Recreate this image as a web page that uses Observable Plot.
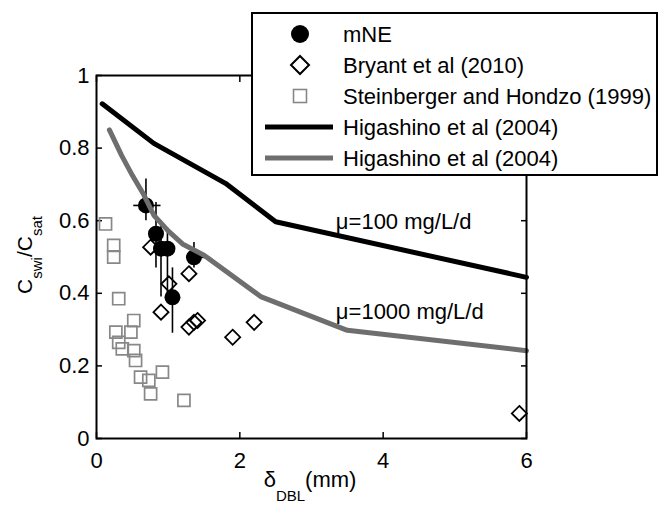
<!DOCTYPE html>
<html><head><meta charset="utf-8">
<script src="https://cdn.jsdelivr.net/npm/d3@7"></script>
<script src="https://cdn.jsdelivr.net/npm/@observablehq/plot@0.6"></script>
<style>
body{margin:0;background:#fff;}
svg{font-family:"Liberation Sans",Arial,Helvetica,sans-serif;}
</style>
</head><body><div id="chart"></div>
<script>
// ---- data ----
const xTicks = [0, 2, 4, 6];
const yTicks = [0, 0.2, 0.4, 0.6, 0.8, 1];

const mneX   = [0.69, 0.83, 0.90, 0.99, 1.06, 1.36];
const mneY   = [0.642, 0.564, 0.523, 0.523, 0.389, 0.499];
const mneYlo = [0.60, 0.47, 0.39, 0.39, 0.29, 0.47];
const mneYhi = [0.715, 0.65, 0.60, 0.58, 0.47, 0.54];
const mneXlo = [0.52, 0.76, 0.90, 0.99, 1.06, 1.27];
const mneXhi = [0.90, 0.90, 0.90, 0.99, 1.06, 1.57];

const bryantX = [0.755, 1.01, 1.29, 0.90, 1.29, 1.36, 1.41, 1.90, 2.20, 5.90];
const bryantY = [0.527, 0.426, 0.454, 0.348, 0.307, 0.320, 0.325, 0.279, 0.320, 0.069];

const steinX = [0.126, 0.24, 0.24, 0.31, 0.52, 0.27, 0.48, 0.31, 0.36, 0.52, 0.545, 0.615, 0.73, 0.92, 0.755, 1.22];
const steinY = [0.591, 0.532, 0.50, 0.385, 0.325, 0.293, 0.293, 0.265, 0.247, 0.242, 0.215, 0.169, 0.16, 0.183, 0.123, 0.105];

const hig100X = [0.08, 0.8, 1.8, 2.5, 6];
const hig100Y = [0.922, 0.813, 0.703, 0.597, 0.444];
const hig1000X = [0.18, 0.35, 0.5, 0.65, 0.8, 1.0, 1.2, 1.5, 2.3, 3.5, 6];
const hig1000Y = [0.85, 0.78, 0.725, 0.675, 0.615, 0.572, 0.536, 0.505, 0.39, 0.298, 0.242];

const annoText = ["\u03bc=100 mg/L/d", "\u03bc=1000 mg/L/d"];
const annoX = [3.34, 3.34];
const annoY = [0.596, 0.348];

const legendLabels = ["mNE", "Bryant et al (2010)", "Steinberger and Hondzo (1999)", "Higashino et al (2004)", "Higashino et al (2004)"];

// ---- tables ----
const mne = mneX.map((x, i) => ({x, y: mneY[i], ylo: mneYlo[i], yhi: mneYhi[i], xlo: mneXlo[i], xhi: mneXhi[i]}));
const bryant = bryantX.map((x, i) => ({x, y: bryantY[i]}));
const stein = steinX.map((x, i) => ({x, y: steinY[i]}));
const h100 = hig100X.map((x, i) => ({x, y: hig100Y[i]}));
const h1000 = hig1000X.map((x, i) => ({x, y: hig1000Y[i]}));
const anno = annoText.map((t, i) => ({t, x: annoX[i], y: annoY[i]}));

const GRAY_LINE = "#6e6e6e";
const GRAY_SQ = "#888888";
const FS = 22;

const plot = Plot.plot({
  width: 660, height: 505,
  marginLeft: 96, marginRight: 134, marginTop: 75, marginBottom: 67,
  x: {domain: [0, 6]},
  y: {domain: [0, 1]},
  style: {fontFamily: '"Liberation Sans",Arial,Helvetica,sans-serif', fontSize: FS + "px", color: "black", background: "white", overflow: "visible"},
  marks: [
    Plot.axisX({anchor: "bottom", ticks: xTicks, tickSize: -6, tickPadding: 20, tickFormat: d => String(d), label: null, strokeWidth: 1.5}),
    Plot.axisX({anchor: "top", ticks: xTicks, tickSize: -6, tickFormat: () => "", label: null, strokeWidth: 1.5}),
    Plot.axisY({anchor: "left", ticks: yTicks, tickSize: -6, tickPadding: 13, tickFormat: d => String(d), label: null, strokeWidth: 1.5}),
    Plot.axisY({anchor: "right", ticks: yTicks, tickSize: -6, tickFormat: () => "", label: null, strokeWidth: 1.5}),
    Plot.dot(stein, {x: "x", y: "y", symbol: "square", r: 6.8, stroke: GRAY_SQ, strokeWidth: 1.7, fill: "none"}),
    Plot.dot(bryant, {x: "x", y: "y", symbol: "diamond2", r: 6.8, stroke: "black", strokeWidth: 1.8, fill: "none"}),
    Plot.ruleX(mne, {x: "x", y1: "ylo", y2: "yhi", stroke: "black", strokeWidth: 1.6}),
    Plot.ruleY(mne, {y: "y", x1: "xlo", x2: "xhi", stroke: "black", strokeWidth: 1.6}),
    Plot.dot(mne, {x: "x", y: "y", r: 8, fill: "black"}),
    Plot.line(h100, {x: "x", y: "y", stroke: "black", strokeWidth: 5}),
    Plot.line(h1000, {x: "x", y: "y", stroke: GRAY_LINE, strokeWidth: 5}),
    Plot.text(anno, {x: "x", y: "y", text: "t", textAnchor: "start", lineAnchor: "middle", fontSize: FS, fill: "black"}),
    Plot.frame({stroke: "black", strokeWidth: 2})
  ]
});

const svg = d3.select(plot);

// axis labels with subscripts
const xl = svg.append("text").attr("x", 310).attr("y", 487).attr("text-anchor", "middle")
  .attr("font-size", FS).attr("fill", "black");
xl.append("tspan").text("\u03b4");
xl.append("tspan").attr("font-size", 15).attr("dy", 14).text("DBL");
xl.append("tspan").attr("font-size", FS).attr("dy", -14).text("(mm)");

const yl = svg.append("text").attr("transform", "translate(32,255) rotate(-90)").attr("text-anchor", "middle")
  .attr("font-size", 21).attr("fill", "black");
yl.append("tspan").text("C");
yl.append("tspan").attr("font-size", 15).attr("dy", 10).text("swi");
yl.append("tspan").attr("font-size", 21).attr("dy", -10).text("/C");
yl.append("tspan").attr("font-size", 15).attr("dy", 10).text("sat");

// legend
const lg = svg.append("g").attr("text-anchor", "start");
lg.append("rect").attr("x", 252).attr("y", 13).attr("width", 405).attr("height", 162)
  .attr("fill", "white").attr("stroke", "black").attr("stroke-width", 2);
const ly = [34, 65, 96, 127, 158];
lg.append("circle").attr("cx", 300).attr("cy", ly[0]).attr("r", 9).attr("fill", "black");
lg.append("path").attr("d", `M300,${ly[1]-9}L309,${ly[1]}L300,${ly[1]+9}L291,${ly[1]}Z`)
  .attr("fill", "none").attr("stroke", "black").attr("stroke-width", 2);
lg.append("rect").attr("x", 293.5).attr("y", ly[2]-6.5).attr("width", 13).attr("height", 13)
  .attr("fill", "none").attr("stroke", GRAY_SQ).attr("stroke-width", 1.6);
lg.append("line").attr("x1", 265).attr("x2", 333).attr("y1", ly[3]).attr("y2", ly[3]).attr("stroke", "black").attr("stroke-width", 5);
lg.append("line").attr("x1", 265).attr("x2", 333).attr("y1", ly[4]).attr("y2", ly[4]).attr("stroke", GRAY_LINE).attr("stroke-width", 5);
legendLabels.forEach((t, i) => {
  lg.append("text").attr("x", 343).attr("y", ly[i]).attr("dy", "0.35em").attr("text-anchor", "start")
    .attr("font-size", FS).attr("fill", "black").text(t);
});

document.getElementById("chart").appendChild(plot);
</script>
</body></html>
